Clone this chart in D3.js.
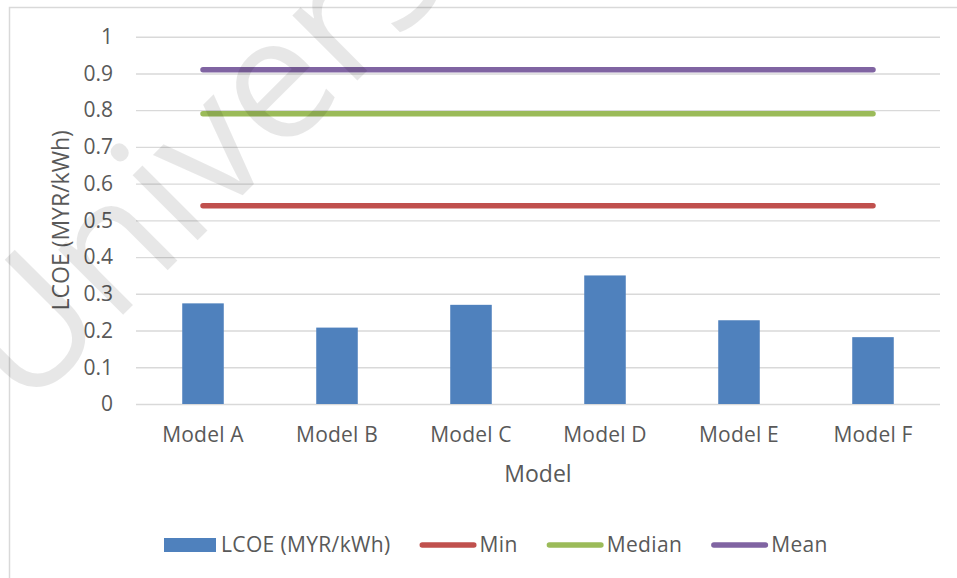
<!DOCTYPE html>
<html>
<head>
<meta charset="utf-8">
<script src="https://cdn.jsdelivr.net/npm/d3@7"></script>
<style>
  html, body { margin: 0; padding: 0; background: #ffffff; }
  svg { display: block; }
  text { font-family: "Open Sans", "DejaVu Sans", sans-serif; fill: #595959; }
</style>
</head>
<body>
<svg id="chart" width="957" height="578"></svg>
<script>
// LCOE per model (bars)
const categories = ["Model A", "Model B", "Model C", "Model D", "Model E", "Model F"];
const lcoeValues = [0.274, 0.208, 0.270, 0.350, 0.228, 0.182];

// Reference levels drawn as flat lines across all models
const refNames = ["Min", "Median", "Mean"];
const refValues = [0.54, 0.79, 0.91];

// Y axis ticks
const yTicks = [0, 0.1, 0.2, 0.3, 0.4, 0.5, 0.6, 0.7, 0.8, 0.9, 1];
const yTickLabels = ["0", "0.1", "0.2", "0.3", "0.4", "0.5", "0.6", "0.7", "0.8", "0.9", "1"];

const barName = "LCOE (MYR/kWh)";
const barColor = "#4F81BD";
const refColors = ["#C0504D", "#9BBB59", "#8064A2"];

const svg = d3.select("#chart");

// chart frame (extends past the right and bottom edges)
svg.append("rect")
  .attr("x", 9.5).attr("y", 7.5)
  .attr("width", 1000).attr("height", 600)
  .attr("fill", "#ffffff")
  .attr("stroke", "#D9D9D9").attr("stroke-width", 1.5);

const plot = { left: 136, right: 940, top: 36.7, bottom: 404 };

const x = d3.scaleBand()
  .domain(categories)
  .range([plot.left, plot.right])
  .paddingInner(0.69)
  .paddingOuter(0.345);

const y = d3.scaleLinear()
  .domain([0, 1])
  .range([plot.bottom, plot.top]);

// gridlines + tick labels
const yAxis = d3.axisLeft(y)
  .tickValues(yTicks)
  .tickFormat((d, i) => yTickLabels[i])
  .tickSize(-(plot.right - plot.left))
  .tickPadding(23);

const gy = svg.append("g")
  .attr("transform", `translate(${plot.left},0)`)
  .call(yAxis);
gy.select(".domain").remove();
gy.selectAll(".tick line")
  .attr("stroke", "#D9D9D9")
  .attr("stroke-width", 1.4);
gy.selectAll(".tick text")
  .attr("font-size", 21)
  .attr("fill", "#595959")
  .style("font-family", "'Open Sans', sans-serif");

// bars
svg.append("g")
  .selectAll("rect")
  .data(lcoeValues)
  .join("rect")
  .attr("x", (d, i) => x(categories[i]))
  .attr("y", d => y(d))
  .attr("width", x.bandwidth())
  .attr("height", d => y(0) - y(d))
  .attr("fill", barColor);

// reference lines, from first to last category centre
const cx = c => x(c) + x.bandwidth() / 2;
const line = d3.line().x(d => cx(d[0])).y(d => y(d[1]));
svg.append("g")
  .selectAll("path")
  .data(refValues)
  .join("path")
  .attr("d", v => line(categories.map(c => [c, v])))
  .attr("fill", "none")
  .attr("stroke", (d, i) => refColors[i])
  .attr("stroke-width", 5.5)
  .attr("stroke-linecap", "round");

// x axis category labels
const xAxis = d3.axisBottom(x).tickSize(0).tickPadding(0);
const gx = svg.append("g")
  .attr("transform", `translate(0,${plot.bottom})`)
  .call(xAxis);
gx.select(".domain").remove();
gx.selectAll(".tick text")
  .attr("y", 38)
  .attr("dy", 0)
  .attr("font-size", 21)
  .attr("fill", "#595959")
  .style("font-family", "'Open Sans', sans-serif")
  .style("letter-spacing", "0.2px");

// axis titles
svg.append("text")
  .attr("x", (plot.left + plot.right) / 2)
  .attr("y", 482)
  .attr("text-anchor", "middle")
  .attr("font-size", 23)
  .text("Model");

svg.append("text")
  .attr("transform", `translate(69,${(plot.top + plot.bottom) / 2}) rotate(-90)`)
  .attr("text-anchor", "middle")
  .attr("font-size", 23)
  .text("LCOE (MYR/kWh)");

// legend
const legendY = 545;
const legend = svg.append("g");
let lx = 164;
const gapAfterText = 29;
const legendItems = [{ name: barName, type: "bar", color: barColor }]
  .concat(refNames.map((n, i) => ({ name: n, type: "line", color: refColors[i] })));
legendItems.forEach(item => {
  let textX;
  if (item.type === "bar") {
    legend.append("rect")
      .attr("x", lx).attr("y", legendY - 7)
      .attr("width", 52).attr("height", 14)
      .attr("fill", item.color);
    textX = lx + 57;
  } else {
    legend.append("line")
      .attr("x1", lx + 2.75).attr("x2", lx + 54.25)
      .attr("y1", legendY).attr("y2", legendY)
      .attr("stroke", item.color)
      .attr("stroke-width", 5.5)
      .attr("stroke-linecap", "round");
    textX = lx + 60;
  }
  const t = legend.append("text")
    .attr("x", textX)
    .attr("y", legendY + 7)
    .attr("font-size", 21)
    .style("letter-spacing", "0.35px")
    .text(item.name);
  lx = textX + t.node().getComputedTextLength() + gapAfterText;
});

// faint watermark across the upper-left of the chart
svg.append("text")
  .attr("transform", "translate(24,414) rotate(-45)")
  .attr("font-size", 172)
  .style("fill", "#000000")
  .style("fill-opacity", 0.095)
  .text("University");
</script>
</body>
</html>
